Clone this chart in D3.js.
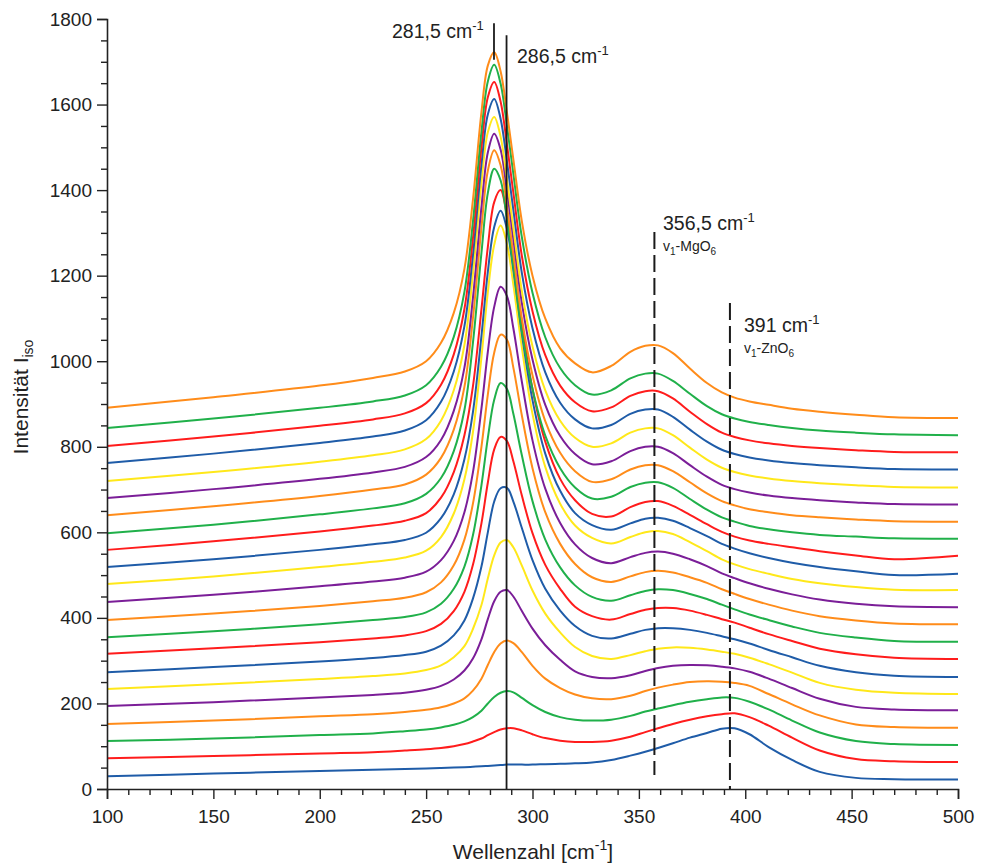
<!DOCTYPE html>
<html><head><meta charset="utf-8">
<script src="https://cdn.jsdelivr.net/npm/d3@7"></script>
<style>
body{margin:0;background:#fff}
svg{display:block}
text{font-family:"Liberation Sans",Arial,sans-serif;fill:#222}
</style>
</head><body>
<svg id="chart" width="982" height="864"></svg>
<script>
// ---- data ----
const wavenumbers = [100,150,200,225,240,250,257,263,268,272,276,279,282,285,288,291,295,300,306,313,320,328,337,346,353,359,366,374,382,389,395,402,411,422,435,452,470,500];
const palette = ["#1f5ca8","#ff1c1c","#20b04a","#ff8c1a","#7b1e98","#ffe81a"];
// spectra from bottom (0) to top (21)
const spectra = [
 [30,36,42,45,47,48,49,50,51,52,53,54,55,56,57,57,57,57,58,59,60,62,68,78,87,96,107,120,131,141,142,128,98,68,40,26,23,22],
 [72,77,83,86,90,93,96,100,105,111,118,126,133,139,142,142,137,128,119,113,110,110,113,122,133,142,152,162,170,175,177,168,148,120,90,70,65,63],
 [112,118,126,130,135,139,144,150,158,168,183,200,215,225,229,226,213,196,180,168,162,160,162,171,181,188,196,204,210,214,213,204,186,160,132,112,105,103],
 [152,160,170,175,180,185,191,200,212,230,258,290,320,340,347,341,320,288,258,236,221,212,210,218,229,237,244,250,252,251,248,241,222,198,172,151,145,143],
 [194,203,214,220,225,232,241,256,277,305,350,397,439,461,465,450,416,375,336,302,275,262,259,266,276,283,288,290,289,286,282,274,258,236,211,192,186,184],
 [234,245,257,264,270,278,289,308,334,374,430,492,546,576,582,565,522,464,410,366,332,311,304,313,322,328,331,330,326,321,316,307,292,272,248,232,225,222],
 [273,285,298,306,313,321,335,359,394,445,520,600,672,703,704,672,610,535,468,417,381,358,352,363,372,376,376,372,365,357,350,340,325,308,288,273,265,262],
 [316,329,343,352,359,369,386,416,461,524,621,716,794,823,813,766,686,598,524,468,426,404,396,409,419,423,423,417,407,397,389,377,362,346,328,315,307,304],
 [355,369,385,395,402,413,433,468,520,593,710,820,910,949,935,877,780,673,583,518,476,449,440,453,463,467,465,456,444,431,420,408,395,380,365,354,346,344],
 [395,410,428,439,447,460,483,523,583,667,800,922,1020,1062,1050,985,873,750,647,573,526,495,484,497,507,510,506,495,482,467,456,444,431,417,404,394,387,385],
 [437,454,474,485,494,508,535,580,647,740,889,1022,1127,1174,1152,1077,952,815,702,622,572,540,528,542,552,555,550,537,521,504,493,481,468,455,443,433,427,425],
 [479,497,519,531,541,557,589,644,724,834,1009,1161,1272,1317,1274,1179,1032,877,753,667,616,587,574,589,600,603,596,577,556,537,525,514,503,491,481,472,466,465],
 [519,537,559,572,582,599,633,689,771,881,1059,1209,1314,1352,1309,1213,1064,909,784,697,645,617,606,621,632,634,627,610,591,573,562,551,540,529,519,509,500,503],
 [559,579,602,616,627,645,681,741,827,941,1121,1267,1372,1400,1339,1237,1090,935,812,725,675,643,637,659,671,673,662,641,619,601,590,581,573,565,556,546,537,545],
 [598,618,642,656,668,690,727,790,886,1043,1253,1393,1450,1423,1330,1220,1070,935,826,750,705,679,683,706,716,717,704,678,653,635,625,615,607,600,594,590,586,585],
 [640,661,685,700,712,735,774,840,940,1100,1312,1445,1493,1458,1362,1250,1100,967,860,786,743,718,724,747,757,757,743,717,691,673,663,654,647,640,635,630,626,625],
 [680,701,725,740,753,776,816,884,985,1148,1360,1488,1532,1495,1398,1286,1136,1004,898,825,783,759,766,790,800,800,785,757,730,711,701,693,686,680,675,670,666,665],
 [720,741,765,780,794,818,861,932,1038,1204,1417,1535,1571,1525,1424,1312,1164,1035,932,861,821,800,808,833,843,843,827,798,770,751,741,733,726,720,715,710,706,705],
 [762,784,809,824,838,862,905,976,1082,1247,1459,1577,1613,1567,1466,1354,1206,1077,974,903,864,843,851,877,887,887,870,840,812,793,783,775,768,762,757,752,748,747],
 [802,824,849,864,878,902,945,1016,1122,1287,1499,1617,1653,1607,1506,1394,1246,1117,1014,943,904,883,892,919,930,930,913,882,853,833,823,815,808,802,797,792,788,787],
 [844,866,891,906,920,944,987,1057,1162,1326,1536,1654,1693,1649,1550,1438,1290,1160,1056,984,944,922,932,960,971,971,954,924,895,876,866,858,851,844,838,833,829,827],
 [891,916,943,961,976,1000,1043,1113,1216,1377,1582,1691,1722,1678,1581,1472,1327,1200,1100,1030,995,974,989,1022,1036,1037,1019,983,949,927,915,906,898,889,882,875,869,867]
];
const xMajorTicks = [100,150,200,250,300,350,400,450,500];
const yMajorTicks = [0,200,400,600,800,1000,1200,1400,1600,1800];
// marker lines: wavenumber label, drawn position, vertical data extent
const solidMarkers = [
  {label:"281,5", pos:281.9, y0:1705, y1:1790},
  {label:"286,5", pos:287.8, y0:0, y1:1762}
];
const dashedMarkers = [
  {label:"356,5", mode:"MgO", pos:357.3, y0:33, y1:1302},
  {label:"391", mode:"ZnO", pos:392.8, y0:0, y1:1136}
];

// ---- layout ----
const svg = d3.select("#chart");
const x = d3.scaleLinear().domain([100,500]).range([107,958]);
const y = d3.scaleLinear().domain([0,1800]).range([789,19]);

// curves
const line = d3.line()
  .x((d,i)=>x(wavenumbers[i]))
  .y(d=>y(d))
  .curve(d3.curveCatmullRom.alpha(0.5));
svg.append("g").selectAll("path").data(spectra).join("path")
  .attr("d", line)
  .attr("fill","none")
  .attr("stroke",(d,i)=>palette[i%palette.length])
  .attr("stroke-width",2)
  .attr("stroke-linejoin","round");

// axes
const xMinor = d3.range(100,501,10).filter(v=>v%50!==0);
const yMinor = d3.range(0,1801,50).filter(v=>v%200!==0);
const gx = svg.append("g").attr("transform","translate(0,789)");
gx.call(d3.axisBottom(x).tickValues(xMajorTicks).tickSize(10).tickPadding(5).tickFormat(d3.format("d")));
gx.append("g").call(d3.axisBottom(x).tickValues(xMinor).tickSize(6).tickFormat(""));
const gy = svg.append("g").attr("transform","translate(107,0)");
gy.call(d3.axisLeft(y).tickValues(yMajorTicks).tickSize(10).tickPadding(5).tickFormat(d3.format("d")));
gy.append("g").call(d3.axisLeft(y).tickValues(yMinor).tickSize(6).tickFormat(""));
svg.selectAll(".domain").attr("stroke","#222").attr("stroke-width",1.6);
svg.selectAll(".tick line").attr("stroke","#222").attr("stroke-width",1.4);
svg.selectAll(".tick text").attr("font-size",19).attr("fill","#222").style("font-family","'Liberation Sans',Arial,sans-serif");
gx.selectAll("g.tick text").attr("dy","1em");
gx.selectAll(".domain").filter((d,i,n)=>n[i].parentNode!==gx.node()).remove();
gy.selectAll(".domain").filter((d,i,n)=>n[i].parentNode!==gy.node()).remove();

// axis titles
const xt = svg.append("text").attr("x",533).attr("y",859).attr("text-anchor","middle").attr("font-size",21);
xt.append("tspan").text("Wellenzahl [cm");
xt.append("tspan").attr("dy",-9).attr("font-size",14).text("-1");
xt.append("tspan").attr("dy",9).text("]");
const yt = svg.append("text").attr("transform","translate(28,397) rotate(-90)").attr("text-anchor","middle").attr("font-size",21);
yt.append("tspan").text("Intensität I");
yt.append("tspan").attr("dy",5).attr("font-size",14).text("iso");

// marker lines
svg.append("g").selectAll("line").data(solidMarkers).join("line")
  .attr("x1",d=>x(d.pos)).attr("x2",d=>x(d.pos))
  .attr("y1",d=>y(d.y1)).attr("y2",d=>y(d.y0))
  .attr("stroke","#1a1a1a").attr("stroke-width",1.8);
svg.append("g").selectAll("line").data(dashedMarkers).join("line")
  .attr("x1",d=>x(d.pos)).attr("x2",d=>x(d.pos))
  .attr("y1",d=>y(d.y1)).attr("y2",d=>y(d.y0))
  .attr("stroke","#1a1a1a").attr("stroke-width",2).attr("stroke-dasharray","17,6");

// marker labels
function wnLabel(tx,ty,lbl){
  const t = svg.append("text").attr("x",tx).attr("y",ty).attr("font-size",19.5);
  t.append("tspan").text(lbl+" cm");
  t.append("tspan").attr("dy",-8).attr("font-size",13).text("-1");
}
function modeLabel(tx,ty,m){
  const t = svg.append("text").attr("x",tx).attr("y",ty).attr("font-size",14);
  t.append("tspan").text("v");
  t.append("tspan").attr("dy",4).attr("font-size",10).text("1");
  t.append("tspan").attr("dy",-4).text("-"+m);
  t.append("tspan").attr("dy",4).attr("font-size",10).text("6");
}
wnLabel(392,38,solidMarkers[0].label);
wnLabel(517,63,solidMarkers[1].label);
wnLabel(663,230,dashedMarkers[0].label);
modeLabel(663,251,dashedMarkers[0].mode);
wnLabel(744,332,dashedMarkers[1].label);
modeLabel(744,353,dashedMarkers[1].mode);
</script>
</body></html>
